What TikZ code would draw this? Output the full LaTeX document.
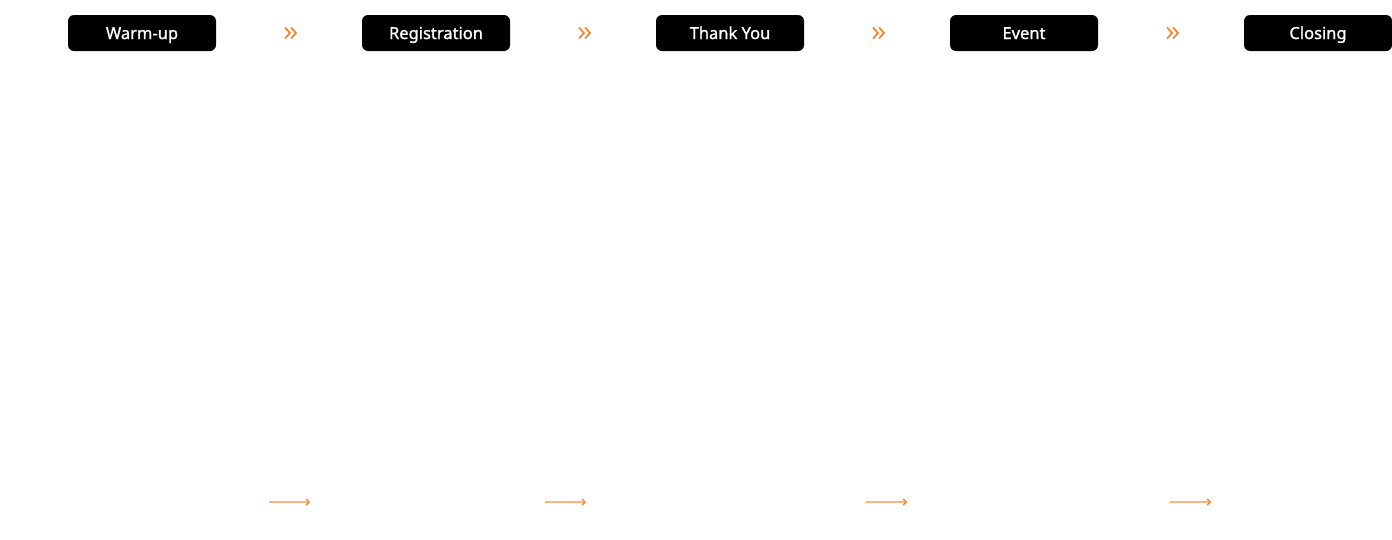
\documentclass[tikz,border=0pt]{standalone}
\usepackage{fontspec}
\setmainfont{Noto Sans}
\newfontfamily\stagefont{Noto Sans}[FakeBold=1.2]
\usetikzlibrary{arrows.meta}
\definecolor{accent}{HTML}{FF7A1F}
\definecolor{accentlight}{HTML}{FFB27A}
\begin{document}
\begin{tikzpicture}[x=1pt,y=-1pt,
  stage/.style={fill=black,text=white,rounded corners=6pt,minimum width=148pt,minimum height=36pt,inner sep=0pt,text height=15pt,text depth=3pt,font=\stagefont\fontsize{16.5}{18}\selectfont},
  chev/.style={draw=accent,line width=1.6pt},
  flow/.style={draw=accentlight,line width=1.2pt,-{Straight Barb[length=3pt,width=6pt,color=accent]}}]
\useasboundingbox (0,0) rectangle (1392,539);
\foreach \i/\t in {0/Warm-up,1/Registration,2/Thank You,3/Event,4/Closing}{
  \node[stage] (s\i) at (142+294*\i,33) {\t};
}
\foreach \i in {0,1,2,3}{
  \pgfmathsetmacro{\cx}{291+294*\i}
  \draw[chev] (\cx-6,27.5) -- (\cx-1,33) -- (\cx-6,38.5);
  \draw[chev] (\cx,27.5) -- (\cx+5,33) -- (\cx,38.5);
}
\foreach \a/\b [count=\k] in {269/310,545/586,866/907,1170/1211}{
  \coordinate (a\k) at (\a,502);
  \coordinate (b\k) at (\b,502);
  \draw[flow] (a\k) -- (b\k);
}
\end{tikzpicture}
\end{document}
